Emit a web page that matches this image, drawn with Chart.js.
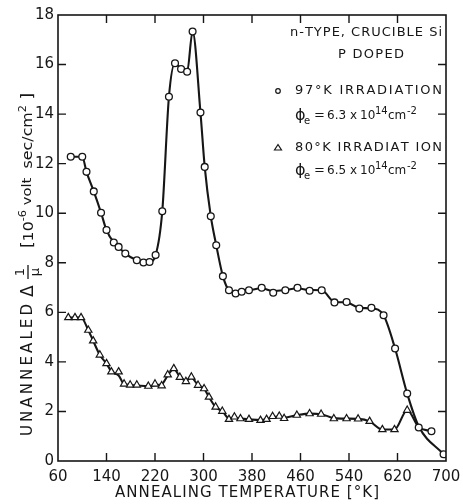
<!DOCTYPE html>
<html>
<head>
<meta charset="utf-8">
<script src="https://cdn.jsdelivr.net/npm/chart.js@4"></script>
<style>
html,body{margin:0;padding:0;background:#fff;}
canvas{display:block;}
</style>
</head>
<body>
<canvas id="c" width="463" height="504"></canvas>
<script>
// ---- data ----
const xTickLabels = ['60','140','220','300','380','460','540','620','700'];
const yTickLabels = ['0','2','4','6','8','10','12','14','16','18'];

// 97°K irradiation (circles)
const circX = [81,100,107,119,131,140,152,160,171,190,201,211,221,232,243,253,263,273,282,295,302,312,321,332,342,353,363,375,396,415,435,455,475,495,516,536,557,577,597,616,636,655,676,696];
const circY = [12.28,12.28,11.67,10.88,10.02,9.32,8.82,8.64,8.37,8.10,8.01,8.03,8.31,10.08,14.70,16.05,15.82,15.71,17.33,14.06,11.87,9.88,8.71,7.46,6.89,6.76,6.83,6.89,6.99,6.79,6.89,6.99,6.87,6.89,6.40,6.42,6.15,6.18,5.88,4.54,2.72,1.35,1.20,0.27];

// smooth curve drawn through the 97°K data
const curve97X = [81,100,107,119,131,140,152,160,171,190,201,211,221,232,243,253,263,273,282,295,302,312,321,332,342,353,363,375,396,415,435,455,475,495,516,536,557,577,597,616,636,655,696];
const curve97Y = [12.28,12.28,11.67,10.88,10.02,9.32,8.82,8.64,8.37,8.10,8.01,8.03,8.31,10.08,14.70,16.05,15.82,15.71,17.33,14.06,11.87,9.88,8.71,7.46,6.89,6.80,6.85,6.89,6.97,6.86,6.90,6.97,6.90,6.89,6.42,6.40,6.18,6.16,5.88,4.54,2.72,1.40,0.27];

// 80°K irradiation (triangles)
const triX = [77,88,98,110,118,129,140,148,160,169,179,190,209,220,231,241,251,261,271,280,291,301,309,320,331,342,351,361,375,394,404,414,425,433,454,475,494,515,536,555,574,595,615,636];
const triY = [5.79,5.79,5.79,5.28,4.85,4.28,3.93,3.60,3.60,3.11,3.07,3.07,3.02,3.11,3.04,3.48,3.73,3.38,3.21,3.39,3.06,2.92,2.58,2.18,2.01,1.68,1.78,1.71,1.68,1.64,1.68,1.80,1.81,1.72,1.85,1.91,1.89,1.71,1.71,1.70,1.60,1.27,1.27,2.05];

// curve drawn through the 80°K data
const curve80X = [77,88,98,110,118,129,140,148,160,169,179,190,209,220,231,241,251,261,271,280,291,301,309,320,331,342,351,361,375,394,404,414,425,433,454,475,494,515,536,555,574,595,615,636,655,676];
const curve80Y = [5.79,5.79,5.79,5.28,4.85,4.28,3.93,3.62,3.45,3.11,3.07,3.05,3.02,3.06,3.10,3.45,3.73,3.40,3.25,3.36,3.06,2.92,2.58,2.18,2.01,1.72,1.74,1.71,1.68,1.65,1.68,1.76,1.79,1.75,1.85,1.91,1.89,1.73,1.71,1.70,1.60,1.27,1.27,2.05,1.37,1.20];

const pts = (xs, ys) => xs.map((x, i) => ({x: x, y: ys[i]}));
const INK = '#161616';
const FONT = "'DejaVu Sans', sans-serif";

function drawFit(ctx, text, x0, x1, y) {
  const chars = [...text];
  const ws = chars.map(c => ctx.measureText(c).width);
  const total = ws.reduce((a, b) => a + b, 0);
  const sp = chars.length > 1 ? (x1 - x0 - total) / (chars.length - 1) : 0;
  let x = x0;
  chars.forEach((c, i) => { ctx.fillText(c, x, y); x += ws[i] + sp; });
}

const framePlugin = {
  id: 'frame',
  afterDatasetsDraw(chart) {
    const {ctx, chartArea: a, scales: {x, y}} = chart;
    ctx.save();
    ctx.strokeStyle = INK;
    ctx.lineWidth = 1.6;
    ctx.strokeRect(a.left, a.top, a.right - a.left, a.bottom - a.top);
    ctx.lineWidth = 1.4;
    const L = 8;
    ctx.beginPath();
    x.ticks.forEach(t => {
      if (t.value <= x.min || t.value >= x.max) return;
      const px = x.getPixelForValue(t.value);
      ctx.moveTo(px, a.bottom); ctx.lineTo(px, a.bottom - L);
      ctx.moveTo(px, a.top); ctx.lineTo(px, a.top + L);
    });
    y.ticks.forEach(t => {
      if (t.value <= y.min || t.value >= y.max) return;
      const py = y.getPixelForValue(t.value);
      ctx.moveTo(a.left, py); ctx.lineTo(a.left + L, py);
      ctx.moveTo(a.right, py); ctx.lineTo(a.right - L, py);
    });
    ctx.stroke();
    ctx.restore();
  },
  afterDraw(chart) {
    const ctx = chart.ctx;
    ctx.save();
    ctx.fillStyle = INK;
    ctx.strokeStyle = INK;
    ctx.textBaseline = 'middle';
    ctx.textAlign = 'left';

    // x-axis title
    ctx.font = '15px ' + FONT;
    drawFit(ctx, 'ANNEALING TEMPERATURE [°K]', 115, 379, 493);

    // y-axis title (rotated)
    ctx.save();
    ctx.translate(27, 436);
    ctx.rotate(-Math.PI / 2);
    ctx.font = '15px ' + FONT;
    drawFit(ctx, 'UNANNEALED', 0, 132, 1);
    ctx.font = '17px ' + FONT;
    ctx.fillText('Δ', 139, 2);
    // fraction 1/μ
    ctx.font = '13px ' + FONT;
    ctx.textAlign = 'center';
    ctx.fillText('1', 164, -6);
    ctx.fillText('μ', 164, 9);
    ctx.lineWidth = 1.3;
    ctx.beginPath(); ctx.moveTo(157, 1); ctx.lineTo(171, 1); ctx.stroke();
    ctx.textAlign = 'left';
    // bracket units, stretched to the span seen in the reference
    const runs = [
      ['[', '15px ' + FONT, 1],
      ['10', '14px ' + FONT, 2],
      ['-6', '10px ' + FONT, -4],
      [' volt  ', '13px ' + FONT, 1],
      ['sec/cm', '14px ' + FONT, 1],
      ['2', '10px ' + FONT, -4],
      [' ]', '15px ' + FONT, 1]
    ];
    let W = 0;
    runs.forEach(r => { ctx.font = r[1]; W += ctx.measureText(r[0]).width; });
    ctx.translate(188, 0);
    ctx.scale(155 / W, 1);
    let u = 0;
    runs.forEach(r => { ctx.font = r[1]; ctx.fillText(r[0], u, r[2]); u += ctx.measureText(r[0]).width; });
    ctx.restore();

    // annotation block
    ctx.font = '13px ' + FONT;
    drawFit(ctx, 'n-TYPE, CRUCIBLE Si', 290, 442, 33);
    drawFit(ctx, 'P DOPED', 338, 404, 55);
    drawFit(ctx, '97°K IRRADIATION', 295, 442, 91);
    drawFit(ctx, '80°K IRRADIAT ION', 295, 442, 148);

    // symbols
    ctx.lineWidth = 1.2;
    ctx.beginPath(); ctx.arc(278, 91, 2.3, 0, Math.PI * 2); ctx.stroke();
    ctx.beginPath(); ctx.moveTo(278, 144.5); ctx.lineTo(281.5, 150); ctx.lineTo(274.5, 150); ctx.closePath(); ctx.stroke();

    const phiLine = (y, val) => {
      ctx.font = '16px ' + FONT; ctx.fillText('ϕ', 295, y);
      ctx.font = '10px ' + FONT; ctx.fillText('e', 304, y + 5);
      ctx.font = '13px ' + FONT;
      ctx.fillText('=', 314, y);
      ctx.font = '12px ' + FONT;
      ctx.fillText(val, 327, y);
      ctx.fillText('x', 350, y);
      ctx.fillText('10', 360, y);
      ctx.font = '10px ' + FONT; ctx.fillText('14', 375, y - 5);
      ctx.font = '12px ' + FONT; ctx.fillText('cm', 388, y);
      ctx.font = '10px ' + FONT; ctx.fillText('-2', 407, y - 5);
    };
    phiLine(116, '6.3');
    phiLine(171, '6.5');
    ctx.restore();
  }
};

new Chart(document.getElementById('c'), {
  type: 'scatter',
  data: {
    datasets: [
      {
        label: '97°K IRRADIATION',
        data: pts(circX, circY),
        showLine: false,
        pointStyle: 'circle',
        pointRadius: 3.4,
        pointBackgroundColor: '#fff',
        pointBorderColor: INK,
        pointBorderWidth: 1.3,
        order: 0
      },
      {
        label: '80°K IRRADIATION',
        data: pts(triX, triY),
        showLine: false,
        pointStyle: 'triangle',
        pointRadius: 4.2,
        pointBackgroundColor: '#fff',
        pointBorderColor: INK,
        pointBorderWidth: 1.2,
        order: 0
      },
      {
        label: '97°K curve',
        data: pts(curve97X, curve97Y),
        showLine: true,
        pointRadius: 0,
        borderColor: INK,
        borderWidth: 2.1,
        cubicInterpolationMode: 'monotone',
        order: 1
      },
      {
        label: '80°K curve',
        data: pts(curve80X, curve80Y),
        showLine: true,
        pointRadius: 0,
        borderColor: INK,
        borderWidth: 2.1,
        cubicInterpolationMode: 'monotone',
        order: 1
      }
    ]
  },
  options: {
    responsive: false,
    animation: false,
    devicePixelRatio: 1,
    layout: {padding: {top: 15, right: 17, left: 0, bottom: 0}},
    plugins: {legend: {display: false}, tooltip: {enabled: false}},
    scales: {
      x: {
        type: 'linear',
        min: 60, max: 700,
        afterFit(s) { s.height = 43; s.paddingLeft = 0; s.paddingRight = 0; },
        afterBuildTicks(s) { s.ticks = xTickLabels.map(v => ({value: +v})); },
        ticks: {
          color: INK, padding: 7, maxRotation: 0, autoSkip: false,
          font: {family: "'DejaVu Sans', sans-serif", size: 15},
          callback: (v) => String(v)
        },
        grid: {display: false, drawTicks: false},
        border: {display: false}
      },
      y: {
        min: 0, max: 18,
        afterFit(s) { s.width = 58; s.paddingTop = 0; s.paddingBottom = 0; },
        afterBuildTicks(s) { s.ticks = yTickLabels.map(v => ({value: +v})); },
        ticks: {
          color: INK, padding: 4, autoSkip: false,
          font: {family: "'DejaVu Sans', sans-serif", size: 15},
          callback: (v) => String(v)
        },
        grid: {display: false, drawTicks: false},
        border: {display: false}
      }
    }
  },
  plugins: [framePlugin]
});
</script>
</body>
</html>
